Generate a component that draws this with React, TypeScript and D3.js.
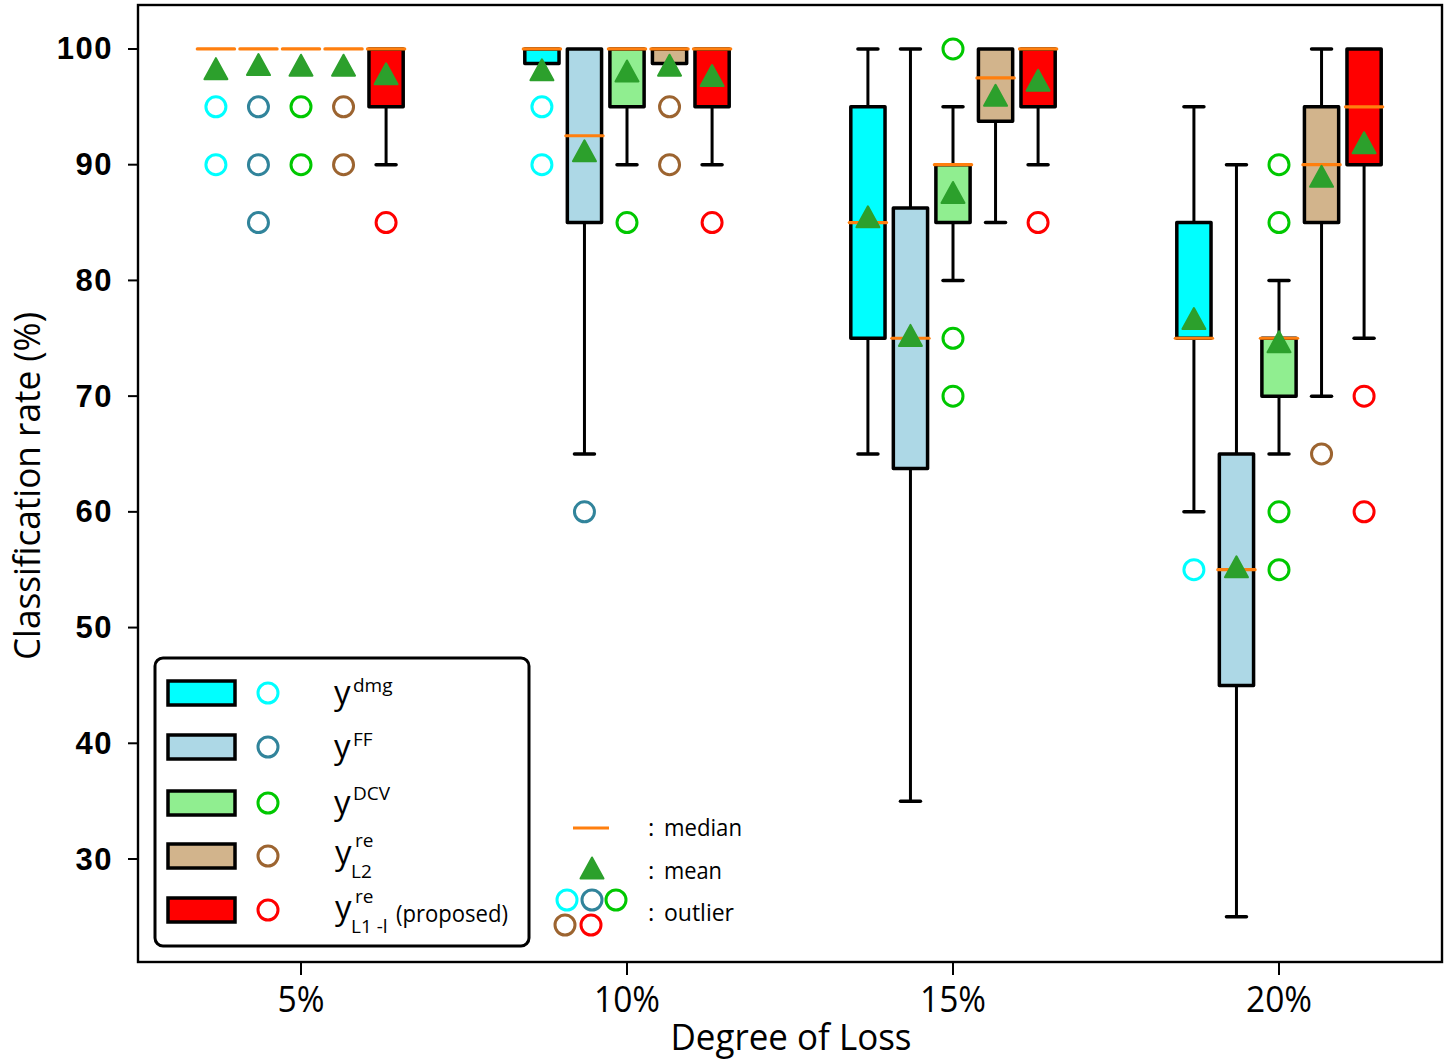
import React from 'react';
import * as d3 from 'd3';

const categories = ['5%', '10%', '15%', '20%'];
const seriesKeys = ['dmg', 'FF', 'DCV', 'L2', 'L1'];
// [whiskerLow, q1, median, q3, whiskerHigh]
const dmgBoxes = [[100, 100, 100, 100, 100], [98.75, 98.75, 100, 100, 100], [65, 75, 85, 95, 100], [60, 75, 75, 85, 95]];
const ffBoxes = [[100, 100, 100, 100, 100], [65, 85, 92.5, 100, 100], [35, 63.75, 75, 86.25, 100], [25, 45, 55, 65, 90]];
const dcvBoxes = [[100, 100, 100, 100, 100], [90, 95, 100, 100, 100], [80, 85, 90, 90, 95], [65, 70, 75, 75, 80]];
const l2Boxes = [[100, 100, 100, 100, 100], [98.75, 98.75, 100, 100, 100], [85, 93.75, 97.5, 100, 100], [70, 85, 90, 95, 100]];
const l1Boxes = [[90, 95, 100, 100, 100], [90, 95, 100, 100, 100], [90, 95, 100, 100, 100], [75, 90, 95, 100, 100]];
const dmgMeans = [98.3, 98.2, 85.5, 76.7];
const ffMeans = [98.65, 91.2, 75.25, 55.25];
const dcvMeans = [98.6, 98.1, 87.6, 74.7];
const l2Means = [98.6, 98.6, 96.0, 89.0];
const l1Means = [97.85, 97.7, 97.3, 91.9];
const dmgOutliers = [[95, 90], [95, 90], [], [55]];
const ffOutliers = [[95, 90, 85], [60], [], []];
const dcvOutliers = [[95, 90], [85], [100, 75, 70], [90, 85, 60, 55]];
const l2Outliers = [[95, 90], [95, 90], [], [65]];
const l1Outliers = [[85], [85], [85], [70, 60]];
const boxFills = ['#00ffff', '#add8e6', '#90ee90', '#d2b48c', '#ff0000'];
const outlierColors = ['#00ffff', '#31849b', '#00c800', '#9c6430', '#ff0000'];
const yTicks = [30, 40, 50, 60, 70, 80, 90, 100];

const allBoxes = [dmgBoxes, ffBoxes, dcvBoxes, l2Boxes, l1Boxes];
const allMeans = [dmgMeans, ffMeans, dcvMeans, l2Means, l1Means];
const allOutliers = [dmgOutliers, ffOutliers, dcvOutliers, l2Outliers, l1Outliers];

const W = 1450, H = 1062;
const L = 138, R = 1442, T = 5, B = 962;
const MEDIAN = '#ff7f0e';
const MEAN = '#2ca02c';
const FONT = "'Open Sans', 'Noto Sans', sans-serif";

function tri(cx: number, cy: number, w: number, h: number) {
  return `M${cx},${cy - h / 2}L${cx + w / 2},${cy + h / 2}L${cx - w / 2},${cy + h / 2}Z`;
}

export default function App() {
  const x = d3.scaleLinear().domain([0.5, 4.5]).range([L, R]);
  const y = d3.scaleLinear().domain([21.1, 103.8]).range([B, T]);
  const step = 0.1305;
  const boxW = x(0.105) - x(0);
  const capW = 20;

  const marks: React.ReactNode[] = [];
  categories.forEach((cat, ci) => {
    seriesKeys.forEach((key, si) => {
      const [wl, q1, med, q3, wh] = allBoxes[si][ci];
      const cx = x(ci + 1 + (si - 2) * step);
      const k = `${key}-${ci}`;
      const g: React.ReactNode[] = [];
      if (wl < q1) {
        g.push(<line key="wl" x1={cx} x2={cx} y1={y(q1)} y2={y(wl)} stroke="#000" strokeWidth={3} />);
        g.push(<line key="cl" x1={cx - capW / 2} x2={cx + capW / 2} y1={y(wl)} y2={y(wl)} stroke="#000" strokeWidth={3.5} strokeLinecap="round" />);
      }
      if (wh > q3) {
        g.push(<line key="wh" x1={cx} x2={cx} y1={y(q3)} y2={y(wh)} stroke="#000" strokeWidth={3} />);
        g.push(<line key="ch" x1={cx - capW / 2} x2={cx + capW / 2} y1={y(wh)} y2={y(wh)} stroke="#000" strokeWidth={3.5} strokeLinecap="round" />);
      }
      if (q3 > q1) {
        g.push(<rect key="box" x={cx - boxW / 2} y={y(q3)} width={boxW} height={y(q1) - y(q3)} fill={boxFills[si]} stroke="#000" strokeWidth={3.5} strokeLinejoin="round" />);
      }
      g.push(<line key="med" x1={cx - boxW / 2 - 1.5} x2={cx + boxW / 2 + 1.5} y1={y(med)} y2={y(med)} stroke={MEDIAN} strokeWidth={3.2} strokeLinecap="round" />);
      g.push(<path key="mean" d={tri(cx, y(allMeans[si][ci]), 23, 21)} fill={MEAN} stroke={MEAN} strokeWidth={2} strokeLinejoin="round" />);
      allOutliers[si][ci].forEach((v, oi) => {
        g.push(<circle key={`o${oi}`} cx={cx} cy={y(v)} r={10} fill="none" stroke={outlierColors[si]} strokeWidth={3} />);
      });
      marks.push(<g key={k}>{g}</g>);
    });
  });

  const legendRows = [693, 747, 803, 856, 910];

  return (
    <svg width={W} height={H} style={{ position: 'absolute', left: 0, top: 0, background: '#fff' }}>
      <rect x={0} y={0} width={W} height={H} fill="#fff" />
      {/* frame */}
      <rect x={L} y={T} width={R - L} height={B - T} fill="none" stroke="#000" strokeWidth={2.4} />
      {/* y ticks */}
      {yTicks.map((t) => (
        <g key={`yt${t}`}>
          <line x1={L - 10} x2={L} y1={y(t)} y2={y(t)} stroke="#000" strokeWidth={2} />
          <text x={113} y={y(t)} textAnchor="end" dominantBaseline="central" fontFamily="'Liberation Sans', Arial, sans-serif" fontWeight="bold" fontSize={31} letterSpacing={1.5} fill="#000">{t}</text>
        </g>
      ))}
      {/* x ticks */}
      {categories.map((c, i) => (
        <g key={`xt${c}`}>
          <line x1={x(i + 1)} x2={x(i + 1)} y1={B} y2={B + 13} stroke="#000" strokeWidth={2} />
          <text x={x(i + 1)} y={1012} textAnchor="middle" fontFamily={FONT} fontSize={37} fill="#000" textLength={c.length === 2 ? 47 : 66} lengthAdjust="spacingAndGlyphs">{c}</text>
        </g>
      ))}
      <text x={791} y={1050} textAnchor="middle" fontFamily={FONT} fontSize={36} fill="#000" textLength={241} lengthAdjust="spacingAndGlyphs">Degree of Loss</text>
      <text transform="translate(40,486) rotate(-90)" textAnchor="middle" fontFamily={FONT} fontSize={37} fill="#000" textLength={348} lengthAdjust="spacingAndGlyphs">Classification rate (%)</text>

      {marks}

      {/* legend 1 */}
      <rect x={155} y={658} width={374} height={288} rx={8} fill="#fff" stroke="#000" strokeWidth={3} />
      {seriesKeys.map((k, i) => (
        <g key={`lg${k}`}>
          <rect x={168} y={legendRows[i] - 12} width={67} height={24} fill={boxFills[i]} stroke="#000" strokeWidth={3.5} />
          <circle cx={268} cy={legendRows[i]} r={10} fill="none" stroke={outlierColors[i]} strokeWidth={3} />
        </g>
      ))}
      <g fontFamily={FONT} fill="#000">
        <text x={334} y={legendRows[0] + 11} fontSize={33}>y</text>
        <text x={353} y={legendRows[0] - 1} fontSize={19}>dmg</text>
        <text x={334} y={legendRows[1] + 11} fontSize={33}>y</text>
        <text x={353} y={legendRows[1] - 1} fontSize={19}>FF</text>
        <text x={334} y={legendRows[2] + 11} fontSize={33}>y</text>
        <text x={353} y={legendRows[2] - 3} fontSize={19}>DCV</text>
        <text x={335} y={legendRows[3] + 8} fontSize={33}>y</text>
        <text x={355} y={legendRows[3] - 9} fontSize={19}>re</text>
        <text x={351} y={legendRows[3] + 22} fontSize={19}>L2</text>
        <text x={335} y={legendRows[4] + 9} fontSize={33}>y</text>
        <text x={355} y={legendRows[4] - 7} fontSize={19}>re</text>
        <text x={351} y={legendRows[4] + 23} fontSize={19}>L1 -l</text>
        <text x={396} y={legendRows[4] + 12} fontSize={24} textLength={112} lengthAdjust="spacingAndGlyphs">(proposed)</text>
      </g>

      {/* legend 2 */}
      <line x1={573} x2={609} y1={828} y2={828} stroke={MEDIAN} strokeWidth={3.2} />
      <path d={tri(592, 868, 23, 21)} fill={MEAN} stroke={MEAN} strokeWidth={2} strokeLinejoin="round" />
      {[[567, 900], [592, 900], [616, 900], [565, 925], [591, 925]].map(([cx, cy], i) => (
        <circle key={`lo${i}`} cx={cx} cy={cy} r={10} fill="none" stroke={outlierColors[i]} strokeWidth={3} />
      ))}
      <g fontFamily={FONT} fill="#000" fontSize={24}>
        <text x={648} y={836}>:</text>
        <text x={664} y={836} textLength={78} lengthAdjust="spacingAndGlyphs">median</text>
        <text x={648} y={879}>:</text>
        <text x={664} y={879} textLength={58} lengthAdjust="spacingAndGlyphs">mean</text>
        <text x={648} y={921}>:</text>
        <text x={664} y={921} textLength={70} lengthAdjust="spacingAndGlyphs">outlier</text>
      </g>
    </svg>
  );
}
